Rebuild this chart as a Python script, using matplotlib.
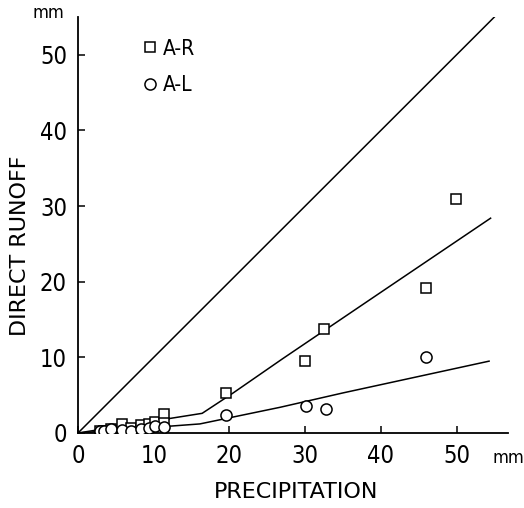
import matplotlib
matplotlib.use("Agg")
import matplotlib.pyplot as plt

plt.rcParams['font.family'] = ['DejaVu Sans']
plt.rcParams['font.stretch'] = 'condensed'

# A-R (squares)
ar_x = [2.9, 3.4, 4.4, 5.8, 7.0, 8.3, 9.4, 10.2, 11.4, 11.4, 19.6, 30.0, 32.5, 46.0, 49.9]
ar_y = [0.3, 0.3, 0.5, 1.2, 0.6, 1.0, 1.2, 1.4, 2.5, 1.3, 5.3, 9.5, 13.8, 19.2, 30.9]
# A-L (circles)
al_x = [2.9, 3.4, 4.4, 5.8, 7.0, 8.3, 9.4, 10.2, 11.4, 19.6, 30.1, 32.8, 46.0]
al_y = [0.2, 0.2, 0.5, 0.4, 0.3, 0.5, 0.6, 0.9, 0.8, 2.4, 3.6, 3.2, 10.1]

# reference 1:1 line
one_x = [0, 55]
one_y = [0, 55]
# fitted A-R curve
fit_r_x = [0, 16.4, 20.5, 27.0, 40.0, 54.5]
fit_r_y = [0, 2.6, 5.3, 9.8, 18.6, 28.4]
# fitted A-L curve
fit_l_x = [0, 16.1, 26.7, 35.0, 54.3]
fit_l_y = [0, 1.2, 3.4, 5.3, 9.5]

xticks = [0, 10, 20, 30, 40, 50]
yticks = [0, 10, 20, 30, 40, 50]

fig = plt.figure(figsize=(5.24, 5.08), dpi=100)
ax = fig.add_axes([78/524, 75/508, 430/524, 416/508])

ax.plot(one_x, one_y, color='black', lw=1.1)
ax.plot(fit_r_x, fit_r_y, color='black', lw=1.1)
ax.plot(fit_l_x, fit_l_y, color='black', lw=1.1)
ax.plot(ar_x, ar_y, linestyle='none', marker='s', ms=7.3, mfc='white', mec='black', mew=1.1, label='A-R', zorder=3)
ax.plot(al_x, al_y, linestyle='none', marker='o', ms=8, mfc='white', mec='black', mew=1.1, label='A-L', zorder=3)

ax.set_xlim(0, 56.8)
ax.set_ylim(0, 55)
ax.spines['top'].set_visible(False)
ax.spines['right'].set_visible(False)
ax.spines['left'].set_linewidth(1.3)
ax.spines['bottom'].set_linewidth(1.3)
ax.set_xticks(xticks)
ax.set_yticks(yticks)
ax.tick_params(direction='in', length=5, width=1.1, labelsize=17, pad=8)

ax.set_xlabel('PRECIPITATION', fontsize=16, fontstretch='normal')
ax.set_ylabel('DIRECT RUNOFF', fontsize=16, fontstretch='normal')
ax.xaxis.set_label_coords(0.507, -0.118)
ax.yaxis.set_label_coords(-0.112, 0.45)

ax.text(1.0, -0.06, 'mm', transform=ax.transAxes, ha='center', va='center', fontsize=13)
ax.text(-0.068, 1.01, 'mm', transform=ax.transAxes, ha='center', va='center', fontsize=13)

ax.legend(loc='upper left', bbox_to_anchor=(0.152, 0.948), frameon=False, fontsize=15,
          handlelength=0.6, handletextpad=0.35, labelspacing=0.8, borderpad=0, borderaxespad=0)

fig.savefig('out.png', dpi=100)
